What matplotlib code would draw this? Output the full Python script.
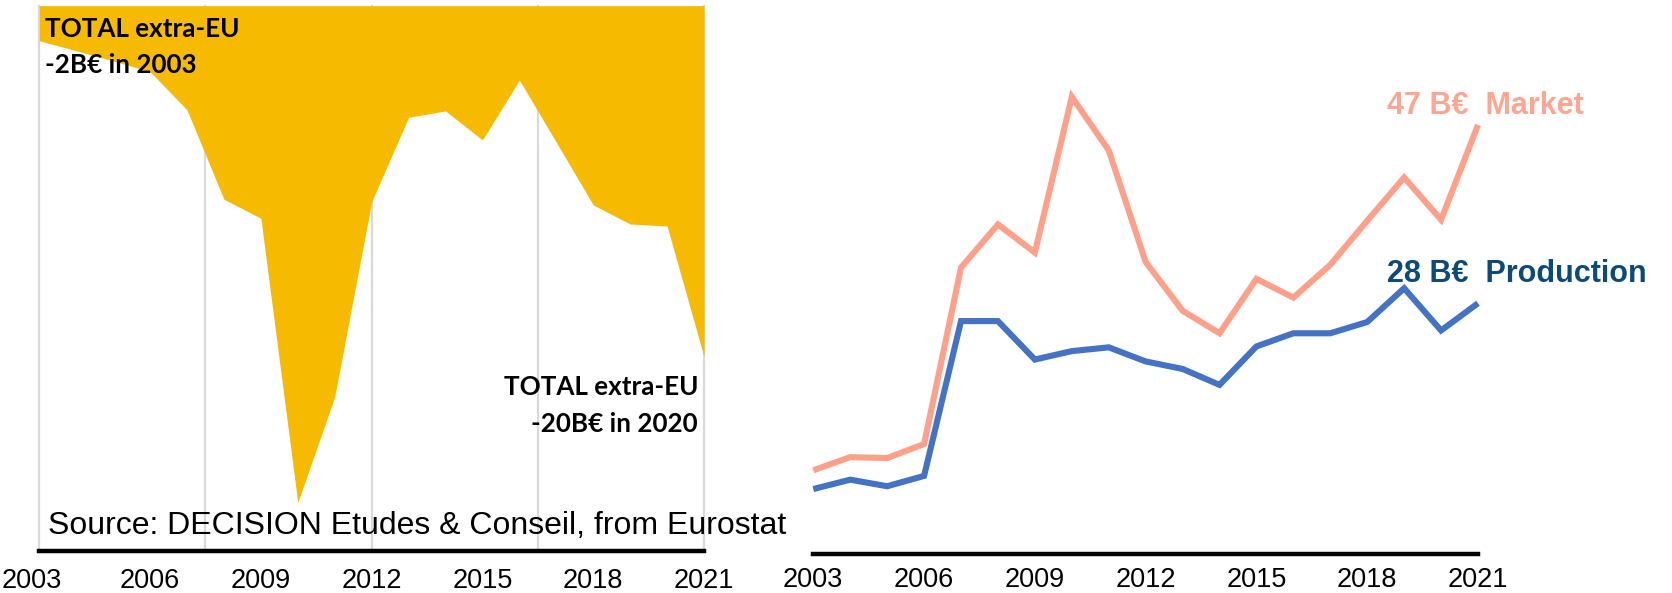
import matplotlib
matplotlib.use('Agg')
import matplotlib.pyplot as plt
import matplotlib.transforms as mtransforms

# ---------------- data ----------------
years = list(range(2003, 2022))
trade_balance = [-2.0, -2.57, -3.15, -3.76, -5.94, -11.03, -12.11, -28.3, -22.27,
                 -11.17, -6.36, -6.0, -7.65, -4.24, -7.78, -11.35, -12.44, -12.55, -20.0]
market = [10.2, 11.6, 11.5, 13.0, 31.8, 36.4, 33.4, 50.0, 44.3, 32.4,
          27.2, 24.8, 30.6, 28.6, 32.1, 36.8, 41.4, 36.9, 47.0]
production = [8.2, 9.2, 8.5, 9.6, 26.1, 26.1, 22.0, 22.9, 23.3, 21.8,
              21.0, 19.3, 23.4, 24.8, 24.8, 26.0, 29.6, 25.1, 28.0]
tick_years = [2003, 2006, 2009, 2012, 2015, 2018, 2021]
grid_years = [2003, 2007.5, 2012, 2016.5, 2021]

market_label = "47 B€  Market"
production_label = "28 B€  Production"
note_top = ["TOTAL extra-EU", "-2B€ in 2003"]
note_bottom = ["TOTAL extra-EU", "-20B€ in 2020"]
source = "Source: DECISION Etudes & Conseil, from Eurostat"

# ---------------- style ----------------
YELLOW = '#F6BB00'
MARKET_C = '#FFA08B'
MARKET_TXT = '#FFA592'
PROD_C = '#4472C4'
PROD_TXT = '#0C4A7A'
GRID_C = '#D9D9D9'

W, H = 1672, 593
fig = plt.figure(figsize=(W / 100, H / 100), dpi=100)


def px_axes(x0, y0, x1, y1):
    return fig.add_axes([x0 / W, 1 - y1 / H, (x1 - x0) / W, (y1 - y0) / H])


def style_axis(ax, pad):
    for s in ['top', 'left', 'right']:
        ax.spines[s].set_visible(False)
    ax.spines['bottom'].set_linewidth(3.2)
    ax.spines['bottom'].set_color('black')
    ax.spines['bottom'].set_capstyle('projecting')
    ax.spines['bottom'].set_zorder(5)
    ax.set_yticks([])
    ax.set_xticks(tick_years)
    ax.set_xticklabels([str(y) for y in tick_years])
    ax.tick_params(axis='x', length=0, pad=pad, labelsize=19.5)
    for lab in ax.get_xticklabels():
        lab.set_fontfamily('Liberation Sans')
    ax.set_facecolor('none')


# ---------------- left panel: trade balance ----------------
ax1 = px_axes(39.3, 5.6, 704, 551)
ax1.set_xlim(2003, 2021)
ax1.set_ylim(-(551 - 5.6) / 17.56, 0)
for g in grid_years:
    ax1.axvline(g, color=GRID_C, lw=1.6, zorder=1, clip_on=False)
ax1.fill_between(years, trade_balance, 0, color=YELLOW, lw=0, zorder=2)
style_axis(ax1, 12)
# first label sits a little to the left of its tick in the original
first = ax1.get_xticklabels()[0]
first.set_transform(first.get_transform() +
                    mtransforms.ScaledTranslation(-7 / 100, 0, fig.dpi_scale_trans))

# ---------------- right panel: market / production ----------------
ax2 = px_axes(813.3, 6, 1478, 553.5)
ax2.set_xlim(2003, 2021)
ax2.set_ylim((566 - 553.5) / 9.384, (566 - 6) / 9.384)
ax2.plot(years, market, color=MARKET_C, lw=4.4, solid_joinstyle='miter',
         solid_capstyle='butt', zorder=3, clip_on=False)
ax2.plot(years, production, color=PROD_C, lw=4.4, solid_joinstyle='miter',
         solid_capstyle='butt', zorder=3, clip_on=False)
style_axis(ax2, 10)

# ---------------- texts ----------------
bold_note = dict(fontfamily='Lato', fontweight='bold', fontsize=18.7, color='black',
                 va='baseline')
fig.text(45 / W, 1 - 37 / H, note_top[0], ha='left', **bold_note)
fig.text(45 / W, 1 - 73 / H, note_top[1], ha='left', **bold_note)
fig.text(698 / W, 1 - 395 / H, note_bottom[0], ha='right', **bold_note)
fig.text(698 / W, 1 - 432 / H, note_bottom[1], ha='right', **bold_note)

fig.text(48 / W, 1 - 534 / H, source, fontfamily='Liberation Sans', fontsize=23,
         color='black', ha='left', va='baseline', zorder=10)

fig.text(1387 / W, 1 - 114.3 / H, market_label, fontfamily='Liberation Sans',
         fontweight='bold', fontsize=22, color=MARKET_TXT, ha='left', va='baseline')
fig.text(1387 / W, 1 - 281.7 / H, production_label, fontfamily='Liberation Sans',
         fontweight='bold', fontsize=22, color=PROD_TXT, ha='left', va='baseline')

fig.savefig('out.png', dpi=100)
